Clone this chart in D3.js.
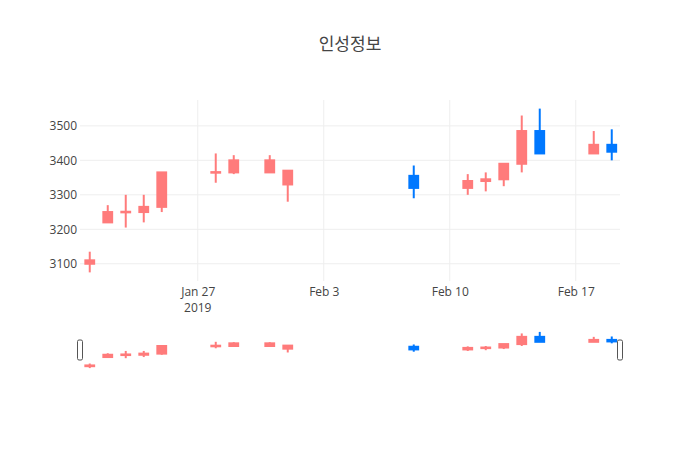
<!DOCTYPE html>
<html>
<head>
<meta charset="utf-8">
<script src="https://cdn.jsdelivr.net/npm/d3@7"></script>
<style>
  body { margin: 0; background: #fff; }
  text { font-family: "Open Sans", "Noto Sans CJK KR", sans-serif; fill: #444; }
</style>
</head>
<body>
<div id="chart"></div>
<script>
const title = "인성정보";

// daily prices
const dates = ["2019-01-21", "2019-01-22", "2019-01-23", "2019-01-24", "2019-01-25",
  "2019-01-28", "2019-01-29", "2019-01-31", "2019-02-01", "2019-02-08",
  "2019-02-11", "2019-02-12", "2019-02-13", "2019-02-14", "2019-02-15",
  "2019-02-18", "2019-02-19"];
const open  = [3100, 3220, 3250, 3250, 3265, 3365, 3365, 3365, 3330, 3355, 3320, 3340, 3345, 3390, 3485, 3420, 3445];
const high  = [3135, 3270, 3300, 3300, 3365, 3420, 3415, 3415, 3370, 3385, 3360, 3365, 3390, 3530, 3550, 3485, 3490];
const low   = [3075, 3220, 3205, 3220, 3250, 3335, 3360, 3365, 3280, 3290, 3300, 3310, 3325, 3365, 3420, 3420, 3400];
const close = [3110, 3250, 3250, 3265, 3365, 3365, 3400, 3400, 3370, 3320, 3340, 3345, 3390, 3485, 3420, 3445, 3425];

const yTicks = [3100, 3200, 3300, 3400, 3500];
const xTicks = ["2019-01-27", "2019-02-03", "2019-02-10", "2019-02-17"];
const xTickLabels = ["Jan 27", "Feb 3", "Feb 10", "Feb 17"];
const yearLabel = "2019";

const upColor = "#ff7b7b";
const downColor = "#0078ff";

const width = 700, height = 450;
const margin = { left: 80, right: 80, top: 100 };
const mainBottom = 281;
const slider = { top: 330, bottom: 370 };

const parse = d3.timeParse("%Y-%m-%d");
const data = dates.map((d, i) => ({
  date: parse(d), o: open[i], h: high[i], l: low[i], c: close[i],
  // equal open/close takes the direction from previous close
  up: close[i] > open[i] || (close[i] === open[i] && (i === 0 || close[i] >= close[i - 1]))
}));

const svg = d3.select("#chart")
  .append("svg")
  .attr("width", width)
  .attr("height", height);

svg.append("rect").attr("width", width).attr("height", height).attr("fill", "#fff");

const x = d3.scaleTime()
  .domain([d3.timeHour.offset(parse("2019-01-20"), 11), d3.timeHour.offset(parse("2019-02-19"), 11)])
  .range([margin.left, width - margin.right]);

const yDomain = [3050, 3575];
const y = d3.scaleLinear().domain(yDomain).range([mainBottom, margin.top]);
const ySlider = d3.scaleLinear().domain(yDomain).range([slider.bottom, slider.top]);

const dayPx = x(parse("2019-01-28")) - x(parse("2019-01-27"));
const boxW = dayPx * 0.6 - 2;

// grid
svg.append("g")
  .selectAll("line")
  .data(xTicks.map(parse))
  .enter()
  .append("line")
  .attr("x1", d => x(d)).attr("x2", d => x(d))
  .attr("y1", margin.top).attr("y2", mainBottom)
  .attr("stroke", "#eee");
svg.append("g")
  .selectAll("line")
  .data(yTicks)
  .enter()
  .append("line")
  .attr("x1", margin.left).attr("x2", width - margin.right)
  .attr("y1", d => y(d)).attr("y2", d => y(d))
  .attr("stroke", "#eee");

// axes
const yAxis = svg.append("g")
  .attr("transform", `translate(${margin.left},0)`)
  .call(d3.axisLeft(y).tickValues(yTicks).tickFormat(d3.format("d")).tickSize(0).tickPadding(3));
yAxis.select(".domain").remove();
yAxis.selectAll("text").style("font-size", "12px").attr("fill", "#444");

const xAxis = svg.append("g")
  .attr("transform", `translate(0,${mainBottom})`)
  .call(d3.axisBottom(x).tickValues(xTicks.map(parse)).tickFormat((d, i) => xTickLabels[i]).tickSize(0).tickPadding(6.5));
xAxis.select(".domain").remove();
xAxis.selectAll("text").style("font-size", "12px").attr("fill", "#444");
svg.append("text")
  .attr("x", x(parse(xTicks[0])))
  .attr("y", mainBottom + 30.5)
  .attr("text-anchor", "middle")
  .style("font-size", "12px")
  .text(yearLabel);

function drawCandles(g, ys) {
  const c = g.selectAll("g")
    .data(data)
    .enter()
    .append("g")
    .attr("stroke", d => d.up ? upColor : downColor)
    .attr("fill", d => d.up ? upColor : downColor);
  c.append("line")
    .attr("x1", d => x(d.date)).attr("x2", d => x(d.date))
    .attr("y1", d => ys(d.h)).attr("y2", d => ys(d.l))
    .attr("stroke-width", 2);
  // flat bodies still get a visible outline
  c.append("rect")
    .attr("x", d => x(d.date) - boxW / 2)
    .attr("width", boxW)
    .attr("y", d => ys(Math.max(d.o, d.c)) - (d.o === d.c ? 0.3 : 0))
    .attr("height", d => Math.max(Math.abs(ys(d.o) - ys(d.c)), 0.6))
    .attr("stroke-width", 2);
}

drawCandles(svg.append("g"), y);

// range slider
const rs = svg.append("g");
drawCandles(rs.append("g"), ySlider);
const sh = slider.bottom - slider.top;
[x.range()[0], x.range()[1]].forEach(px => {
  rs.append("rect")
    .attr("x", px - 2.5)
    .attr("y", slider.top + sh / 4)
    .attr("width", 5)
    .attr("height", sh / 2)
    .attr("rx", 1.5)
    .attr("fill", "#fff")
    .attr("stroke", "#555")
    .attr("stroke-width", 1);
});

// title
svg.append("text")
  .attr("x", width / 2)
  .attr("y", 50)
  .attr("text-anchor", "middle")
  .style("font-size", "17px")
  .text(title);
</script>
</body>
</html>
